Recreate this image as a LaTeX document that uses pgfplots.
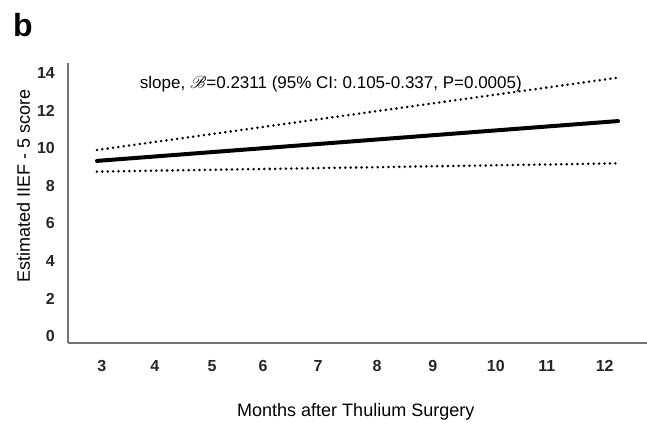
\documentclass[border=0pt]{standalone}
\usepackage{pgfplots}
\pgfplotsset{compat=1.18}
\usepackage{mathrsfs}
\usepackage{fontspec}
\setmainfont{Liberation Sans}

% estimated IIEF-5 score vs months: fit line and 95% CI bounds
\pgfplotstableread{
x   fit    lo    hi
3   9.33   8.76  9.91
12  11.45  9.20  13.76
}\fitdata

\begin{document}
\begin{tikzpicture}
\begin{axis}[
    at={(0,0)}, anchor=south west,
    scale only axis,
    width=579pt, height=280pt,
    xmin=2.5, xmax=12.5,
    ymin=-0.36, ymax=14.54,
    axis x line=bottom, axis y line=left,
    axis line style={-, draw=black!55, line width=1.3pt},
    x axis line style={-}, y axis line style={-},
    major tick length=0pt,
    xtick={3.086,4.00,4.99,5.87,6.82,7.84,8.80,9.89,10.77,11.77},
    xticklabels={3,4,5,6,7,8,9,10,11,12},
    ytick={0,2,4,6,8,10,12,14},
    /pgf/number format/assume math mode=true,
    ticklabel style={font=\fontsize{16}{19}\selectfont\bfseries, text=black!85},
    xticklabel style={anchor=center, yshift=-23pt},
    yticklabel style={anchor=east, inner sep=0pt, xshift=-13pt},
    xlabel={Months after Thulium Surgery},
    ylabel={Estimated IIEF - 5 score},
    every axis x label/.style={at={(axis description cs:0.497,0)}, anchor=base, yshift=-73pt, font=\fontsize{18}{21}\selectfont},
    every axis y label/.style={at={(axis description cs:-0.0769,0.561)}, anchor=center, rotate=90, font=\fontsize{18}{21}\selectfont},
    clip=false,
]
\addplot[black, line width=4pt, line cap=round] table[x=x, y=fit] {\fitdata};
\addplot[black, line width=2.8pt, line cap=round, dash pattern=on 0pt off 5.4pt] table[x=x, y=hi] {\fitdata};
\addplot[black, line width=2.8pt, line cap=round, dash pattern=on 0pt off 5.4pt] table[x=x, y=lo] {\fitdata};
\node[anchor=base, font=\fontsize{17}{20}\selectfont, inner sep=0pt] at (rel axis cs:0.454,0.908)
    {slope, $\mathscr{B}$=0.2311 (95\% CI: 0.105-0.337, P=0.0005)};
\end{axis}
\node[anchor=base west, inner sep=0pt, font=\fontsize{32}{36}\selectfont\bfseries] at (-55pt,306pt) {b};
\pgfresetboundingbox
\path[use as bounding box] (-68pt,-82pt) rectangle (579pt,343pt);
\end{tikzpicture}
\end{document}
